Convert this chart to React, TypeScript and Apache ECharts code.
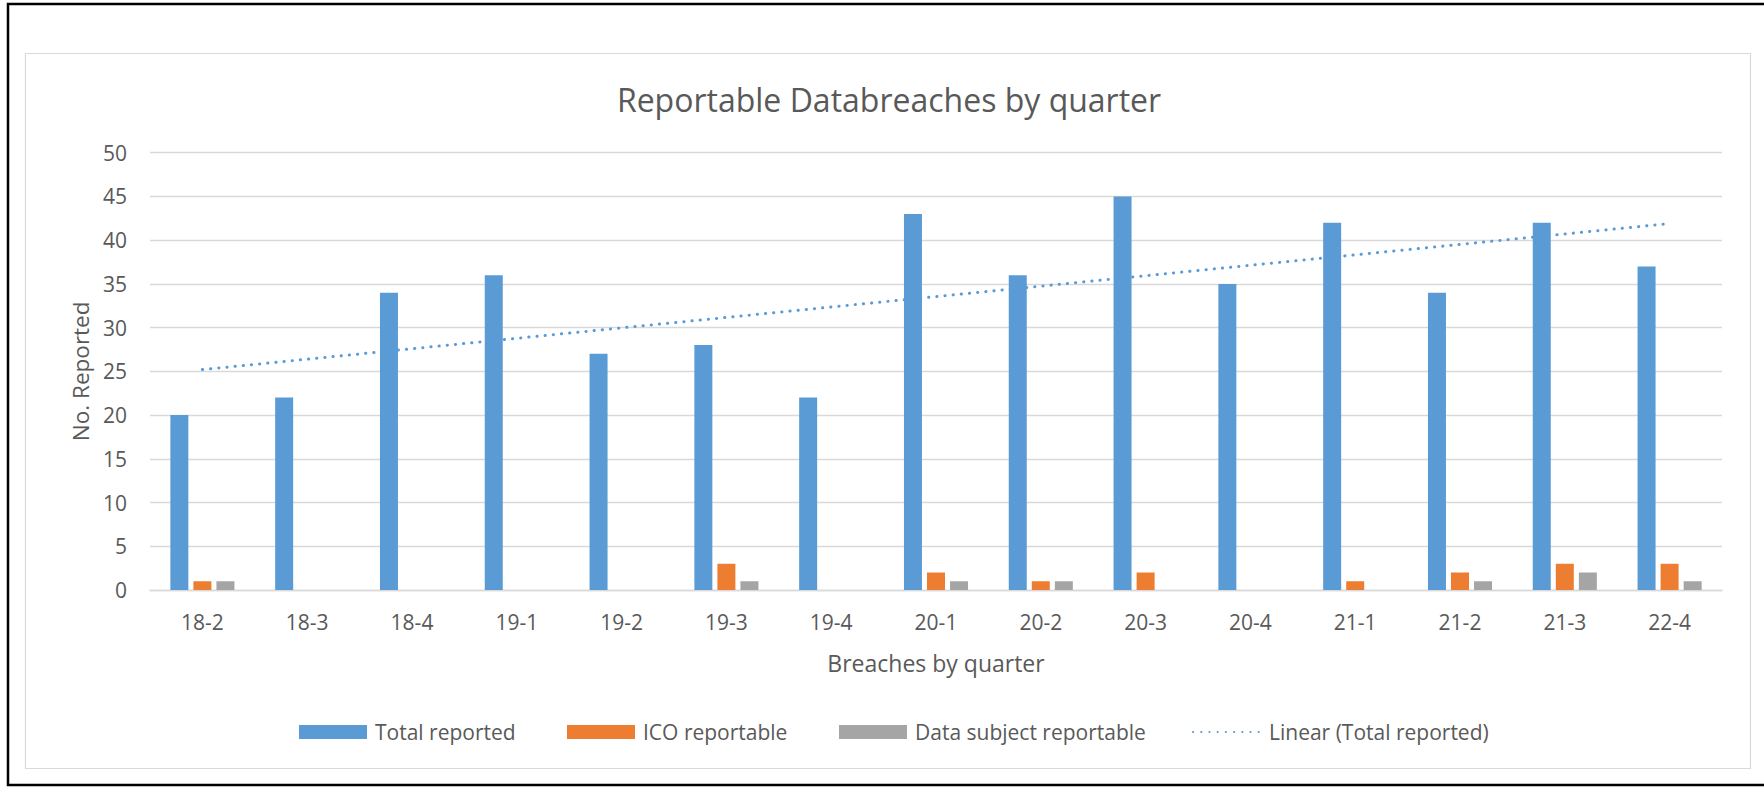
import React, { useEffect, useRef } from "react";
import * as echarts from "echarts";

const categories = ["18-2", "18-3", "18-4", "19-1", "19-2", "19-3", "19-4", "20-1", "20-2", "20-3", "20-4", "21-1", "21-2", "21-3", "22-4"];
const totalReported = [20, 22, 34, 36, 27, 28, 22, 43, 36, 45, 35, 42, 34, 42, 37];
const icoReportable = [1, 0, 0, 0, 0, 3, 0, 2, 1, 2, 0, 1, 2, 3, 3];
const dataSubjectReportable = [1, 0, 0, 0, 0, 1, 0, 1, 1, 0, 0, 0, 1, 2, 1];
// Linear trendline endpoints (first and last quarter)
const trendStart = 25.2;
const trendEnd = 41.9;
const yTicks = { min: 0, max: 50, interval: 5 };

const FONT = "'Open Sans', 'Noto Sans', sans-serif";
const TEXT = "#595959";
const BLUE = "#5B9BD5";
const ORANGE = "#ED7D31";
const GRAY = "#A5A5A5";
const GRID = "#D9D9D9";

export default function App() {
  const ref = useRef<HTMLDivElement>(null);
  useEffect(() => {
    if (!ref.current) return;
    const chart = echarts.init(ref.current, undefined, { renderer: "svg" });
    const trendData = categories.map((_, i) =>
      i === 0 ? trendStart : i === categories.length - 1 ? trendEnd : null
    );
    const legendBase = {
      top: 721.5,
      padding: 0,
      itemWidth: 68,
      itemHeight: 14,
      textStyle: { color: TEXT, fontSize: 21, fontFamily: FONT, padding: [0, 0, 0, 3] },
    };
    chart.setOption({
      animation: false,
      backgroundColor: "#ffffff",
      title: {
        text: "Reportable Databreaches by quarter",
        left: 884,
        textAlign: "center",
        top: 78,
        textStyle: { color: TEXT, fontSize: 32, fontWeight: "normal", fontFamily: FONT },
      },
      graphic: [
        {
          type: "rect",
          shape: { x: 8, y: 4, width: 1800, height: 781 },
          style: { fill: "none", stroke: "#000000", lineWidth: 2.5 },
          silent: true,
        },
        {
          type: "rect",
          shape: { x: 25.5, y: 53.5, width: 1725, height: 715 },
          style: { fill: "none", stroke: GRID, lineWidth: 1.2 },
          silent: true,
        },
      ],
      legend: [
        { ...legendBase, left: 299, icon: "rect", data: ["Total reported"] },
        { ...legendBase, left: 567, icon: "rect", data: ["ICO reportable"] },
        { ...legendBase, left: 839, icon: "rect", data: ["Data subject reportable"] },
        {
          ...legendBase,
          left: 1192,
          data: ["Linear (Total reported)"],
          itemStyle: { color: "rgba(0,0,0,0)", borderWidth: 0, opacity: 0 },
        },
      ],
      grid: { left: 150, right: 42, top: 152.7, bottom: 197 },
      xAxis: {
        type: "category",
        data: categories,
        name: "Breaches by quarter",
        nameLocation: "middle",
        nameGap: 61,
        nameTextStyle: { color: TEXT, fontSize: 23, fontFamily: FONT },
        axisLine: { lineStyle: { color: GRID, width: 1.3 } },
        axisTick: { show: false },
        axisLabel: { color: TEXT, fontSize: 21, fontFamily: FONT, margin: 21 },
      },
      yAxis: {
        type: "value",
        min: yTicks.min,
        max: yTicks.max,
        interval: yTicks.interval,
        name: "No. Reported",
        nameLocation: "middle",
        nameGap: 58,
        nameTextStyle: { color: TEXT, fontSize: 22.5, fontFamily: FONT },
        axisLine: { show: false },
        axisTick: { show: false },
        axisLabel: { color: TEXT, fontSize: 21, fontFamily: FONT, margin: 23 },
        splitLine: { lineStyle: { color: GRID, width: 1.3 } },
      },
      series: [
        {
          name: "Total reported",
          type: "bar",
          data: totalReported,
          barWidth: 18,
          barGap: "28%",
          itemStyle: { color: BLUE },
        },
        {
          name: "ICO reportable",
          type: "bar",
          data: icoReportable,
          barWidth: 18,
          barGap: "28%",
          itemStyle: { color: ORANGE },
        },
        {
          name: "Data subject reportable",
          type: "bar",
          data: dataSubjectReportable,
          barWidth: 18,
          barGap: "28%",
          itemStyle: { color: GRAY },
        },
        {
          name: "Linear (Total reported)",
          type: "line",
          data: trendData,
          connectNulls: true,
          symbol: "none",
          itemStyle: { color: BLUE },
          lineStyle: { color: BLUE, width: 3, type: [0.2, 8], cap: "round" },
          z: 5,
        },
      ],
    });
    return () => chart.dispose();
  }, []);
  return (
    <div
      ref={ref}
      style={{ position: "fixed", left: 0, top: 0, width: 1764, height: 787, background: "#fff" }}
    />
  );
}
